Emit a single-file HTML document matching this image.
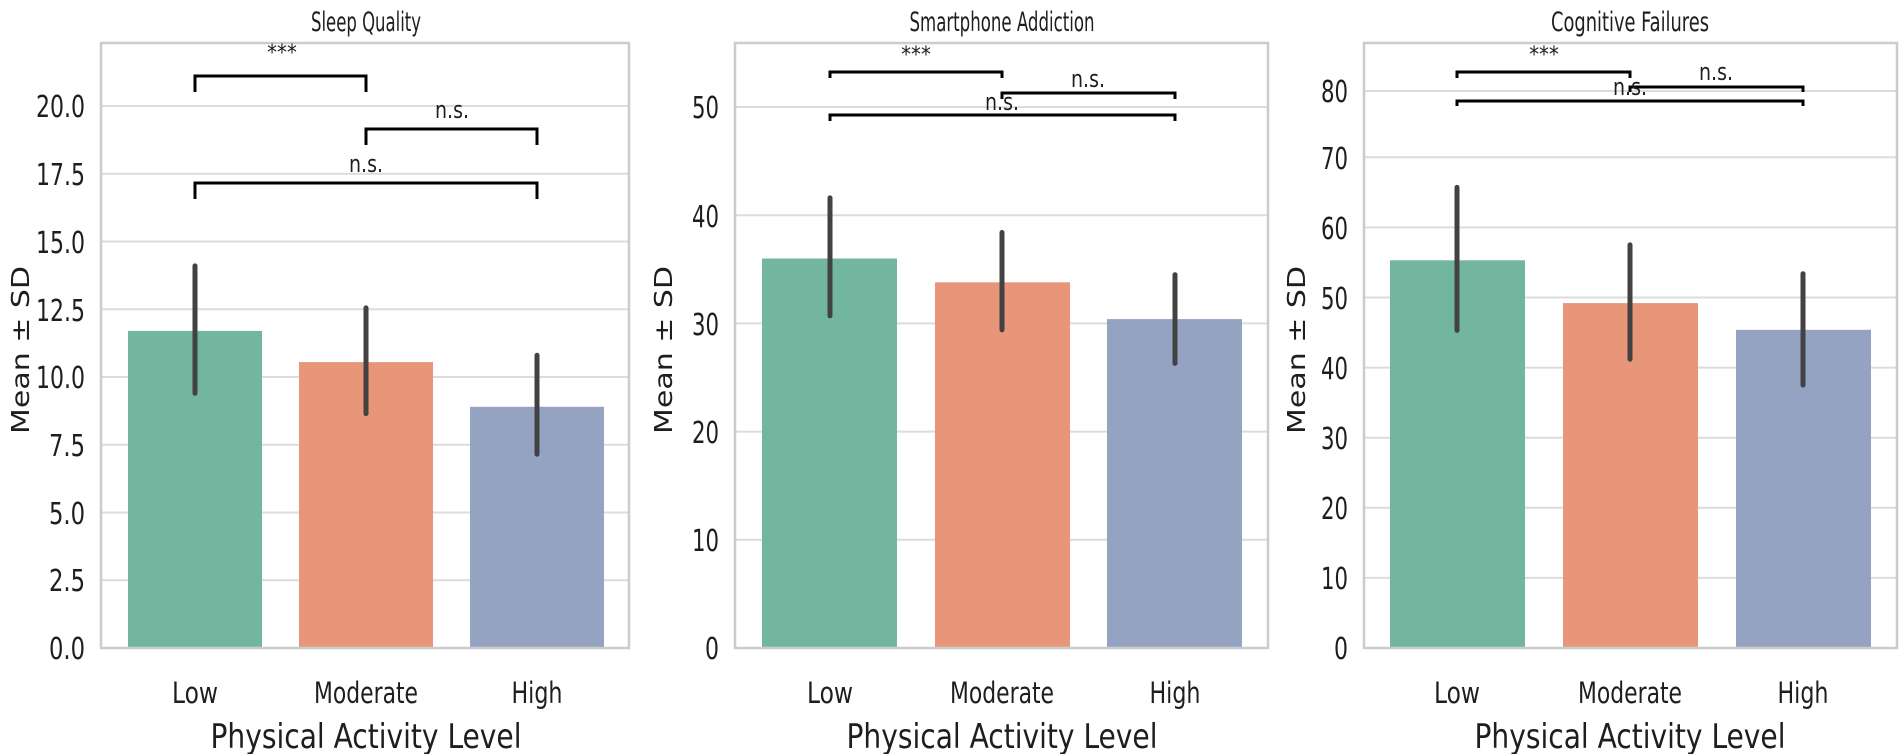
<!DOCTYPE html>
<html><head><meta charset="utf-8"><style>
body{margin:0;background:#fff}
svg{display:block}
.t{font-family:"DejaVu Sans Condensed","DejaVu Sans","Liberation Sans Narrow",sans-serif;fill:#1e1e1e}
.yl{font-family:"DejaVu Sans","Liberation Sans",sans-serif;font-size:25px;fill:#1e1e1e}
.g{stroke:#dcdcdc;stroke-width:2}
.e{stroke:#424242;stroke-width:5;stroke-linecap:round}
.b{stroke:#000;stroke-width:3;fill:none}
</style></head><body>
<svg width="1902" height="754" viewBox="0 0 1902 754">
<!-- Panel 1 -->
<g>
<g class="g">
<line x1="101" x2="629" y1="580.2" y2="580.2"/><line x1="101" x2="629" y1="512.5" y2="512.5"/><line x1="101" x2="629" y1="444.7" y2="444.7"/><line x1="101" x2="629" y1="377" y2="377"/><line x1="101" x2="629" y1="309.2" y2="309.2"/><line x1="101" x2="629" y1="241.5" y2="241.5"/><line x1="101" x2="629" y1="173.7" y2="173.7"/><line x1="101" x2="629" y1="106" y2="106"/>
</g>
<rect x="128" y="330.9" width="134" height="317.1" fill="#73b6a0"/>
<rect x="299" y="362.1" width="134" height="285.9" fill="#e8967a"/>
<rect x="470" y="406.8" width="134" height="241.2" fill="#95a3c3"/>
<line class="e" x1="195" x2="195" y1="393.3" y2="265.9"/>
<line class="e" x1="366" x2="366" y1="413.6" y2="307.9"/>
<line class="e" x1="537" x2="537" y1="454.2" y2="355.3"/>
<rect x="101" y="43" width="528" height="605" fill="none" stroke="#cccccc" stroke-width="2.5"/>
<path class="b" d="M195 92V76H366V92"/><path class="b" d="M366 145V129H537V145"/><path class="b" d="M195 199V183H537V199"/>
<text class="t" x="282" y="60" font-size="22" text-anchor="middle">***</text>
<text class="t" x="452" y="118" font-size="24" text-anchor="middle" textLength="34" lengthAdjust="spacingAndGlyphs">n.s.</text>
<text class="t" x="366" y="172" font-size="24" text-anchor="middle" textLength="34" lengthAdjust="spacingAndGlyphs">n.s.</text>
<g class="t" font-size="30" text-anchor="end" lengthAdjust="spacingAndGlyphs">
<text x="85" y="659" textLength="36" lengthAdjust="spacingAndGlyphs">0.0</text><text x="85" y="591" textLength="36" lengthAdjust="spacingAndGlyphs">2.5</text><text x="85" y="524" textLength="36" lengthAdjust="spacingAndGlyphs">5.0</text><text x="85" y="456" textLength="36" lengthAdjust="spacingAndGlyphs">7.5</text><text x="85" y="388" textLength="49" lengthAdjust="spacingAndGlyphs">10.0</text><text x="85" y="321" textLength="49" lengthAdjust="spacingAndGlyphs">12.5</text><text x="85" y="253" textLength="49" lengthAdjust="spacingAndGlyphs">15.0</text><text x="85" y="185" textLength="49" lengthAdjust="spacingAndGlyphs">17.5</text><text x="85" y="117" textLength="49" lengthAdjust="spacingAndGlyphs">20.0</text>
</g>
<g class="t" font-size="29" text-anchor="middle">
<text x="195" y="703" textLength="46" lengthAdjust="spacingAndGlyphs">Low</text><text x="366" y="703" textLength="104" lengthAdjust="spacingAndGlyphs">Moderate</text><text x="537" y="703" textLength="51" lengthAdjust="spacingAndGlyphs">High</text>
<text x="366" y="748" font-size="34" textLength="311" lengthAdjust="spacingAndGlyphs">Physical Activity Level</text>
<text x="366" y="31" font-size="27" textLength="110" lengthAdjust="spacingAndGlyphs">Sleep Quality</text>
</g>
<text class="yl" transform="translate(29,350) rotate(-90)" text-anchor="middle" textLength="168" lengthAdjust="spacingAndGlyphs">Mean ± SD</text>
</g>
<!-- Panel 2 -->
<g>
<g class="g">
<line x1="735" x2="1268" y1="539.8" y2="539.8"/><line x1="735" x2="1268" y1="431.6" y2="431.6"/><line x1="735" x2="1268" y1="323.4" y2="323.4"/><line x1="735" x2="1268" y1="215.2" y2="215.2"/><line x1="735" x2="1268" y1="107" y2="107"/>
</g>
<rect x="762" y="258.5" width="135" height="389.5" fill="#73b6a0"/>
<rect x="935" y="282.3" width="135" height="365.7" fill="#e8967a"/>
<rect x="1107" y="319.1" width="135" height="328.9" fill="#95a3c3"/>
<line class="e" x1="830" x2="830" y1="315.8" y2="197.9"/>
<line class="e" x1="1002" x2="1002" y1="329.9" y2="232.5"/>
<line class="e" x1="1175" x2="1175" y1="363.4" y2="274.7"/>
<rect x="735" y="43" width="533" height="605" fill="none" stroke="#cccccc" stroke-width="2.5"/>
<path class="b" d="M830 78V72H1002V78"/><path class="b" d="M1002 99V93H1175V99"/><path class="b" d="M830 121V115H1175V121"/>
<text class="t" x="916" y="62" font-size="22" text-anchor="middle">***</text>
<text class="t" x="1088" y="87" font-size="24" text-anchor="middle" textLength="34" lengthAdjust="spacingAndGlyphs">n.s.</text>
<text class="t" x="1002" y="110" font-size="24" text-anchor="middle" textLength="34" lengthAdjust="spacingAndGlyphs">n.s.</text>
<g class="t" font-size="30" text-anchor="end">
<text x="719" y="659" textLength="14" lengthAdjust="spacingAndGlyphs">0</text><text x="719" y="551" textLength="27" lengthAdjust="spacingAndGlyphs">10</text><text x="719" y="443" textLength="27" lengthAdjust="spacingAndGlyphs">20</text><text x="719" y="335" textLength="27" lengthAdjust="spacingAndGlyphs">30</text><text x="719" y="227" textLength="27" lengthAdjust="spacingAndGlyphs">40</text><text x="719" y="118" textLength="27" lengthAdjust="spacingAndGlyphs">50</text>
</g>
<g class="t" font-size="29" text-anchor="middle">
<text x="830" y="703" textLength="46" lengthAdjust="spacingAndGlyphs">Low</text><text x="1002" y="703" textLength="104" lengthAdjust="spacingAndGlyphs">Moderate</text><text x="1175" y="703" textLength="51" lengthAdjust="spacingAndGlyphs">High</text>
<text x="1002" y="748" font-size="34" textLength="311" lengthAdjust="spacingAndGlyphs">Physical Activity Level</text>
<text x="1002" y="31" font-size="27" textLength="185" lengthAdjust="spacingAndGlyphs">Smartphone Addiction</text>
</g>
<text class="yl" transform="translate(672,350) rotate(-90)" text-anchor="middle" textLength="168" lengthAdjust="spacingAndGlyphs">Mean ± SD</text>
</g>
<!-- Panel 3 -->
<g>
<g class="g">
<line x1="1364" x2="1897" y1="577.9" y2="577.9"/><line x1="1364" x2="1897" y1="507.8" y2="507.8"/><line x1="1364" x2="1897" y1="437.7" y2="437.7"/><line x1="1364" x2="1897" y1="367.6" y2="367.6"/><line x1="1364" x2="1897" y1="297.5" y2="297.5"/><line x1="1364" x2="1897" y1="227.4" y2="227.4"/><line x1="1364" x2="1897" y1="157.3" y2="157.3"/><line x1="1364" x2="1897" y1="91" y2="91"/>
</g>
<rect x="1390" y="260.3" width="135" height="387.7" fill="#73b6a0"/>
<rect x="1563" y="303.1" width="135" height="344.9" fill="#e8967a"/>
<rect x="1736" y="329.8" width="135" height="318.2" fill="#95a3c3"/>
<line class="e" x1="1457" x2="1457" y1="330.4" y2="187.4"/>
<line class="e" x1="1630" x2="1630" y1="359.2" y2="244.9"/>
<line class="e" x1="1803" x2="1803" y1="385.1" y2="273.7"/>
<rect x="1364" y="43" width="533" height="605" fill="none" stroke="#cccccc" stroke-width="2.5"/>
<path class="b" d="M1457 78V72H1630V78"/><path class="b" d="M1630 92V87H1803V92"/><path class="b" d="M1457 106V101H1803V106"/>
<text class="t" x="1544" y="62" font-size="22" text-anchor="middle">***</text>
<text class="t" x="1716" y="80" font-size="24" text-anchor="middle" textLength="34" lengthAdjust="spacingAndGlyphs">n.s.</text>
<text class="t" x="1630" y="95" font-size="24" text-anchor="middle" textLength="34" lengthAdjust="spacingAndGlyphs">n.s.</text>
<g class="t" font-size="30" text-anchor="end">
<text x="1348" y="659" textLength="14" lengthAdjust="spacingAndGlyphs">0</text><text x="1348" y="589" textLength="27" lengthAdjust="spacingAndGlyphs">10</text><text x="1348" y="519" textLength="27" lengthAdjust="spacingAndGlyphs">20</text><text x="1348" y="449" textLength="27" lengthAdjust="spacingAndGlyphs">30</text><text x="1348" y="379" textLength="27" lengthAdjust="spacingAndGlyphs">40</text><text x="1348" y="309" textLength="27" lengthAdjust="spacingAndGlyphs">50</text><text x="1348" y="239" textLength="27" lengthAdjust="spacingAndGlyphs">60</text><text x="1348" y="169" textLength="27" lengthAdjust="spacingAndGlyphs">70</text><text x="1348" y="102" textLength="27" lengthAdjust="spacingAndGlyphs">80</text>
</g>
<g class="t" font-size="29" text-anchor="middle">
<text x="1457" y="703" textLength="46" lengthAdjust="spacingAndGlyphs">Low</text><text x="1630" y="703" textLength="104" lengthAdjust="spacingAndGlyphs">Moderate</text><text x="1803" y="703" textLength="51" lengthAdjust="spacingAndGlyphs">High</text>
<text x="1630" y="748" font-size="34" textLength="311" lengthAdjust="spacingAndGlyphs">Physical Activity Level</text>
<text x="1630" y="31" font-size="27" textLength="158" lengthAdjust="spacingAndGlyphs">Cognitive Failures</text>
</g>
<text class="yl" transform="translate(1305,350) rotate(-90)" text-anchor="middle" textLength="168" lengthAdjust="spacingAndGlyphs">Mean ± SD</text>
</g>
</svg>
</body></html>
